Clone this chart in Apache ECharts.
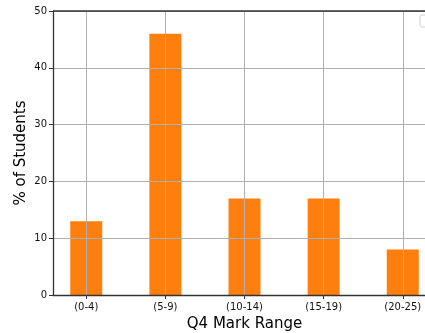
<!DOCTYPE html>
<html><head><meta charset="utf-8">
<script src="https://cdn.jsdelivr.net/npm/echarts@6/dist/echarts.min.js"></script>
<style>html,body{margin:0;padding:0;background:#fff}#c{width:425px;height:333px}</style>
</head><body><div id="c"></div>
<script>
const categories = ['(0-4)', '(5-9)', '(10-14)', '(15-19)', '(20-25)'];
const values = [13, 46, 17, 17, 8];
const yTicks = [0, 10, 20, 30, 40, 50];

const chart = echarts.init(document.getElementById('c'), null, {renderer: 'canvas'});
const font = 'DejaVu Sans';
const positions = categories.map((_, i) => i);
chart.setOption({
  animation: false,
  grid: {left: 53, top: 11, width: 383, height: 284, show: false, outerBoundsMode: 'none', containLabel: false},
  xAxis: {
    type: 'value', min: -0.42, max: 4.42, z: 5,
    name: 'Q4 Mark Range', nameLocation: 'middle', nameGap: 22, nameMoveOverlap: false,
    nameTextStyle: {fontFamily: font, fontSize: 15, color: '#000'},
    axisLine: {show: true, onZero: false, lineStyle: {color: '#333', width: 1.3}},
    axisTick: {show: true, customValues: positions, length: 4, lineStyle: {color: '#333', width: 1}},
    axisLabel: {customValues: positions, formatter: v => categories[Math.round(v)], fontFamily: font, fontSize: 10, color: '#111', margin: 7},
    splitLine: {show: true, lineStyle: {color: '#b0b0b0', width: 1}}
  },
  yAxis: {
    type: 'value', min: 0, max: 50, interval: 10, z: 5,
    name: '% of Students', nameLocation: 'middle', nameGap: 24, nameMoveOverlap: false,
    nameTextStyle: {fontFamily: font, fontSize: 15, color: '#000'},
    axisLine: {show: true, onZero: false, lineStyle: {color: '#333', width: 1.3}},
    axisTick: {show: true, length: 4, lineStyle: {color: '#333', width: 1}},
    axisLabel: {fontFamily: font, fontSize: 10, color: '#111', margin: 6},
    splitLine: {show: true, lineStyle: {color: '#b0b0b0', width: 1}}
  },
  graphic: [
    {type: 'line', shape: {x1: 53, y1: 11, x2: 436, y2: 11}, style: {stroke: '#333', lineWidth: 1.3}, z: 100},
    {type: 'rect', shape: {x: 420, y: 15, width: 20, height: 12, r: 2}, style: {fill: '#fff', stroke: '#d0d0d0', lineWidth: 1}, z: 100}
  ],
  series: [{
    type: 'bar', barWidth: 32, z: 2,
    itemStyle: {color: '#ff7f0e'},
    data: values.map((v, i) => [positions[i], v])
  }]
});
</script></body></html>
